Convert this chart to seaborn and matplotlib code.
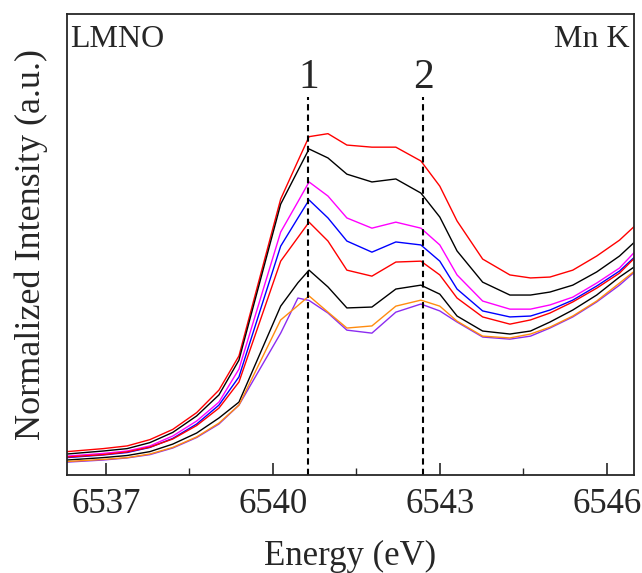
import numpy as np
import pandas as pd
import matplotlib
matplotlib.use("Agg")
import matplotlib.pyplot as plt
from matplotlib.ticker import MultipleLocator, NullLocator
import seaborn as sns

# energia (eV) comun a todas las curvas
energia = [6536.30, 6536.95, 6537.38, 6537.79, 6538.20, 6538.63, 6539.03, 6539.39,
           6540.14, 6540.45, 6540.65, 6540.99, 6541.33, 6541.78, 6542.21, 6542.66,
           6543.00, 6543.31, 6543.77, 6544.26, 6544.63, 6544.98, 6545.39, 6545.82,
           6546.23, 6546.52]

# intensidades normalizadas (de arriba hacia abajo)
rojo_1 = [0.078, 0.088, 0.097, 0.118, 0.152, 0.208, 0.283, 0.397, 0.920, 1.047,
          1.128, 1.138, 1.100, 1.093, 1.093, 1.047, 0.963, 0.847, 0.720, 0.667,
          0.657, 0.660, 0.683, 0.730, 0.783, 0.833]
negro_1 = [0.070, 0.080, 0.088, 0.108, 0.142, 0.197, 0.267, 0.383, 0.903, 1.015,
           1.087, 1.057, 1.003, 0.977, 0.987, 0.940, 0.860, 0.747, 0.643, 0.600,
           0.600, 0.610, 0.633, 0.677, 0.730, 0.780]
magenta = [0.063, 0.072, 0.080, 0.097, 0.130, 0.180, 0.243, 0.353, 0.810, 0.911,
           0.977, 0.930, 0.857, 0.823, 0.843, 0.823, 0.767, 0.667, 0.580, 0.553,
           0.553, 0.567, 0.593, 0.640, 0.690, 0.747]
azul = [0.058, 0.067, 0.075, 0.092, 0.122, 0.170, 0.233, 0.327, 0.763, 0.857,
        0.917, 0.857, 0.780, 0.743, 0.777, 0.767, 0.713, 0.620, 0.547, 0.527,
        0.530, 0.550, 0.583, 0.630, 0.680, 0.730]
rojo_2 = [0.060, 0.068, 0.077, 0.093, 0.120, 0.165, 0.223, 0.310, 0.713, 0.792,
          0.843, 0.780, 0.683, 0.663, 0.710, 0.713, 0.667, 0.590, 0.527, 0.503,
          0.517, 0.540, 0.577, 0.623, 0.673, 0.727]
negro_2 = [0.050, 0.058, 0.065, 0.078, 0.103, 0.140, 0.190, 0.243, 0.563, 0.641,
           0.683, 0.627, 0.557, 0.560, 0.620, 0.633, 0.603, 0.530, 0.480, 0.470,
           0.480, 0.510, 0.550, 0.600, 0.660, 0.697]
violeta = [0.043, 0.050, 0.057, 0.068, 0.090, 0.125, 0.170, 0.233, 0.473, 0.590,
           0.582, 0.540, 0.483, 0.473, 0.543, 0.570, 0.547, 0.510, 0.460, 0.453,
           0.463, 0.490, 0.527, 0.577, 0.633, 0.680]
naranja = [0.045, 0.052, 0.058, 0.070, 0.092, 0.127, 0.173, 0.233, 0.517, 0.565,
           0.597, 0.543, 0.490, 0.497, 0.563, 0.583, 0.563, 0.513, 0.463, 0.457,
           0.470, 0.493, 0.530, 0.580, 0.640, 0.683]

series = {"rojo_1": rojo_1, "negro_1": negro_1, "magenta": magenta, "azul": azul,
          "rojo_2": rojo_2, "negro_2": negro_2, "violeta": violeta, "naranja": naranja}
colores = {"rojo_1": "#ff0000", "negro_1": "#000000", "magenta": "#ff00ff",
           "azul": "#0000ff", "rojo_2": "#ff0000", "negro_2": "#000000",
           "violeta": "#8c2cf0", "naranja": "#ff8c10"}

# posiciones de los picos 1 y 2
picos = [6540.64, 6542.70]
etiquetas_picos = ["1", "2"]

df = pd.concat([pd.DataFrame({"E": energia, "I": v, "muestra": k})
                for k, v in series.items()], ignore_index=True)

sns.set_style("ticks")
plt.rcParams['font.family'] = ['Liberation Serif', 'DejaVu Serif']
plt.rcParams['mathtext.fontset'] = 'stix'

fig, ax = plt.subplots(figsize=(6.42, 5.73), dpi=100)
fig.subplots_adjust(left=0.1044, right=0.9875, top=0.9756, bottom=0.171)

sns.lineplot(data=df, x="E", y="I", hue="muestra", palette=colores, sort=False,
             estimator=None, linewidth=1.0, legend=False, ax=ax)

for p, t in zip(picos, etiquetas_picos):
    ax.axvline(p, ymin=0, ymax=0.82, color="k", linestyle=(0, (3, 2)), linewidth=1.5)
    ax.text(p, 0.862, t, transform=ax.get_xaxis_transform(), ha="center",
            va="center", fontsize=30)

ax.text(0.006, 0.944, "LMNO", transform=ax.transAxes, ha="left", va="center", fontsize=23)
ax.text(0.993, 0.944, "Mn K", transform=ax.transAxes, ha="right", va="center", fontsize=23)

ax.set_xlim(6536.30, 6546.49)
ax.set_ylim(0, 1.537)
ax.set_xticks([6537, 6540, 6543, 6546])
ax.xaxis.set_minor_locator(MultipleLocator(1.5))
ax.yaxis.set_major_locator(NullLocator())
ax.tick_params(axis="x", which="major", direction="in", length=9, width=1.2,
               labelsize=25, pad=9, top=False)
ax.tick_params(axis="x", which="minor", direction="in", length=5, width=1.0, top=False)
ax.set_xlabel("Energy (eV)", fontsize=25, labelpad=14)
ax.set_ylabel("Normalized Intensity (a.u.)", fontsize=26, labelpad=14)
for s in ax.spines.values():
    s.set_linewidth(1.3)
    s.set_visible(True)

plt.savefig("out.png", dpi=100)
